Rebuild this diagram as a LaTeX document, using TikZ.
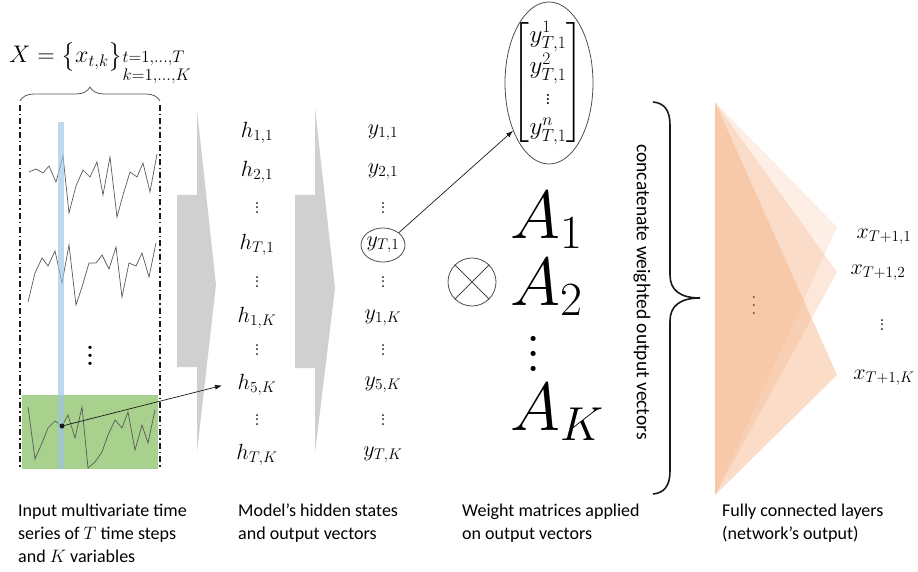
\documentclass[tikz,border=0pt]{standalone}
\usepackage{fix-cm}
\usepackage{amsmath,amssymb}
\usepackage{graphicx}
\usepackage{fontspec}
\newfontfamily\capfont{Carlito}
\usepackage{xcolor}
\definecolor{barblue}{HTML}{9DC3E6}
\definecolor{wingreen}{HTML}{A9D18E}
\definecolor{chevgray}{HTML}{D0D0D0}
\definecolor{peach}{HTML}{F4B183}
\definecolor{peachdark}{HTML}{843C0C}
\definecolor{ink}{HTML}{1A1A1A}
\definecolor{series}{HTML}{595959}
\definecolor{rimgray}{HTML}{4D4D4D}
\usetikzlibrary{arrows.meta,positioning,decorations.pathreplacing,shapes.geometric}
% three dots without the top kern of \vdots
\newcommand{\colvdots}{\vbox{\baselineskip4.5pt\lineskiplimit0pt\hbox{.}\hbox{.}\hbox{.}}}

\begin{document}
\begin{tikzpicture}[>={Latex[length=7pt,width=5pt]}, x=1pt, y=-1pt,
	mathlbl/.style={font=\fontsize{22}{26}\selectfont, inner sep=0pt},
	caption/.style={font=\capfont\fontsize{18}{23}\selectfont, align=left, anchor=north west, inner sep=0pt},
	rim/.style={draw=rimgray, line width=0.8pt},
	dashdot/.style={ink, line width=1.4pt, dash pattern=on 6pt off 3pt on 1.5pt off 3pt}]

	\useasboundingbox (0,0) rectangle (918,572);

	% ================= Panel A: input time series =================
	\begin{scope}
		\node[font=\fontsize{24}{28}\selectfont, anchor=base west, inner sep=0pt] (title)
		at (9,63) {$X=\big\{x_{t,k}\big\}\begin{array}[t]{@{}l@{}}\scriptstyle t=1,\ldots,T\\[-10pt]
		\scriptstyle k=1,\ldots,K\end{array}$};

		\draw[series, line width=0.8pt, decorate, decoration={brace, amplitude=14pt}]
		(20,101) -- (160,101);

		\draw[dashdot] (20,105) -- (20,467);
		\draw[dashdot] (160,105) -- (160,467);

		\fill[wingreen] (22,395) rectangle (158,469);

		\draw[series, line width=0.7pt] plot coordinates {
			(29,172) (36,169) (43,173) (49,166) (56,182) (63,156) (69,213) (76,186)
			(83,170) (90,177) (97,162) (103,195) (110,157) (117,217) (123,195)
			(130,172) (137,177) (143,163) (150,192) (157,154)};

		\draw[series, line width=0.7pt] plot coordinates {
			(28,302) (35,273) (42,258) (48,266) (55,251) (62,283) (69,245) (76,305)
			(82,287) (89,263) (96,263) (102,255) (109,269) (116,247) (122,297)
			(129,263) (136,266) (142,253) (149,277) (156,243)};

		\draw[series, line width=0.7pt] plot coordinates {
			(28,407) (35,459) (42,443) (48,428) (55,421) (62,426) (68,415) (75,438)
			(82,407) (88,468) (95,462) (102,452) (108,435) (115,420) (122,428)
			(128,412) (135,450) (142,425) (148,443) (155,410)};

		\fill[barblue, opacity=0.65] (58,122) rectangle (64,469);

		\coordinate (pick) at (62,426);
		\fill[ink] (pick) circle (2.5);

		\node[font=\fontsize{20}{22}\selectfont, inner sep=0pt] (sdots) at (90,350) {\scalebox{2}{$\vdots$}};
	\end{scope}

	% ================= Panel B: hidden states and outputs =================
	\begin{scope}
		\fill[chevgray] (177,195) -- (197,195) -- (197,110) -- (216,285) -- (197,452)
		-- (197,367) -- (177,367) -- cycle;
		\fill[chevgray] (295,195) -- (315,195) -- (315,108) -- (335,288) -- (315,453)
		-- (315,368) -- (295,368) -- cycle;

		\foreach \n/\yy/\lbl in {
			1/133/{h_{1,1}}, 2/172/{h_{2,1}}, 3/208/{\colvdots}, 4/245/{h_{T,1}},
			5/282/{\colvdots}, 6/318/{h_{1,K}}, 7/350/{\colvdots}, 8/385/{h_{5,K}},
			9/420/{\colvdots}, 10/455/{h_{T,K}}
		}{
			\node[mathlbl] (h\n) at (257,\yy) {$\lbl$};
		}

		\foreach \n/\yy/\lbl in {
			1/133/{y_{1,1}}, 2/172/{y_{2,1}}, 3/208/{\colvdots}, 4/245/{y_{T,1}},
			5/282/{\colvdots}, 6/318/{y_{1,K}}, 7/350/{\colvdots}, 8/385/{y_{5,K}},
			9/420/{\colvdots}, 10/455/{y_{T,K}}
		}{
			\node[mathlbl] (y\n) at (383,\yy) {$\lbl$};
		}

		\node[rim, ellipse, minimum width=44pt, minimum height=34pt, inner sep=0pt] (yT1) at (y4) {};

		\draw[ink, line width=0.7pt, ->, shorten >=16pt] (pick) -- (h8.170);
	\end{scope}

	% ================= Panel C: weight matrices =================
	\begin{scope}
		\node[font=\fontsize{25}{30}\selectfont, inner sep=0pt] (vecm) at (548,83)
		{\renewcommand{\arraystretch}{1.0}$\begin{bmatrix} y^{1}_{T,1}\\ y^{2}_{T,1}\\ \vdots\\ y^{n}_{T,1}\end{bmatrix}$};
		\node[rim, ellipse, minimum width=88pt, minimum height=162pt, inner sep=0pt] (vec) at (549,83) {};

		\draw[ink, line width=0.7pt, ->] (yT1.north east) -- (vec.233);

		\node[font=\fontsize{68}{70}\selectfont, anchor=base west, inner sep=0pt] (A1) at (510,238) {$A_1$};
		\node[font=\fontsize{68}{70}\selectfont, anchor=base west, inner sep=0pt] (A2) at (510,305) {$A_2$};
		\node[font=\fontsize{14}{16}\selectfont, inner sep=0pt] (Adots) at (534,343) {\scalebox{3.75}{$\vdots$}};
		\node[font=\fontsize{68}{70}\selectfont, anchor=base west, inner sep=0pt] (AK) at (510,430) {$A_K$};

		\node[rim, circle, minimum size=48pt, inner sep=0pt] (otimes) at (472,282) {};
		\draw[rim] (otimes.north west) -- (otimes.south east);
		\draw[rim] (otimes.north east) -- (otimes.south west);

		\draw[ink, line width=1.6pt] (653,102) .. controls (664,103) and (670,110) .. (670,125)
		-- (670,275) .. controls (670,290) and (680,298) .. (700,298)
		.. controls (680,298) and (670,306) .. (670,321)
		-- (670,471) .. controls (670,486) and (664,493) .. (653,494);

		\node[font=\capfont\fontsize{19.5}{23}\selectfont, rotate=-90] (concat) at (642,292)
		{concatenate weighted output vectors};
	\end{scope}

	% ================= Panel D: fully connected layers =================
	\begin{scope}
		\coordinate (ftop) at (715,102);
		\coordinate (fbot) at (715,495);

		\foreach \yy/\o in {227/0.2, 272/0.3, 375/0.45}{
			\fill[peach, opacity=\o] (ftop) -- (837,\yy) -- (fbot) -- cycle;
		}

		\node[text=peachdark, font=\fontsize{9}{10}\selectfont, inner sep=0pt] (fdots) at (754,300)
		{\scalebox{2}{$\vdots$}};

		\foreach \n/\xx/\yy/\lbl in {
			1/884/237/{x_{T+1,1}}, 2/878/273/{x_{T+1,2}},
			3/882/325/{\colvdots}, 4/884/378/{x_{T+1,K}}
		}{
			\node[mathlbl] (out\n) at (\xx,\yy) {$\lbl$};
		}
	\end{scope}

	% ================= Captions =================
	\node[caption] (cap1) at (18,504) {Input multivariate time\\series of $T$ time steps\\and $K$ variables};
	\node[caption] (cap2) at (238,504) {Model’s hidden states\\and output vectors};
	\node[caption] (cap3) at (462,504) {Weight matrices applied\\on output vectors};
	\node[caption] (cap4) at (722,504) {Fully connected layers\\(network’s output)};

\end{tikzpicture}
\end{document}
